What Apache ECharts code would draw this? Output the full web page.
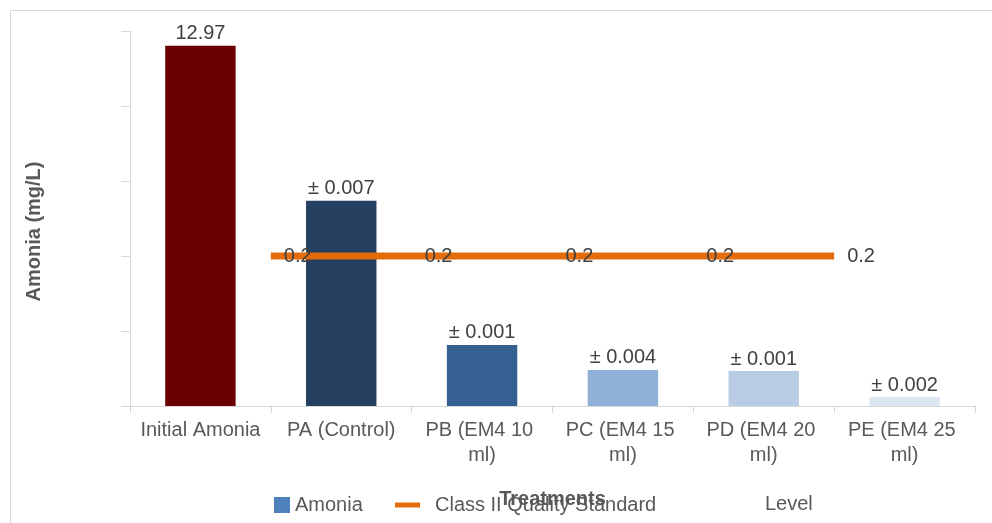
<!DOCTYPE html>
<html>
<head>
<meta charset="utf-8">
<script src="https://cdn.jsdelivr.net/npm/echarts@6/dist/echarts.min.js"></script>
<style>
html,body{margin:0;padding:0;background:#fff;}
#chart{width:992px;height:523px;}
</style>
</head>
<body>
<div id="chart"></div>
<script>
// ---- data ----
const categories = ['Initial Amonia', 'PA (Control)', 'PB (EM4 10 ml)', 'PC (EM4 15 ml)', 'PD (EM4 20 ml)', 'PE (EM4 25 ml)'];
const amonia = [12.97, 7.39, 2.20, 1.30, 1.26, 0.32];
const amoniaLabels = ['12.97', '± 0.007', '± 0.001', '± 0.004', '± 0.001', '± 0.002'];
const barColors = ['#6B0000', '#243F60', '#366092', '#8FB1D7', '#B8CCE4', '#DCE6F2'];
// hidden boundary axis for the standard line (category edges)
const boundaries = ['b0', 'b1', 'b2', 'b3', 'b4', 'b5', 'b6'];
const standard = [null, 0.2, 0.2, 0.2, 0.2, 0.2, null];

const FONT = 'Liberation Sans, Arial, sans-serif';
const chart = echarts.init(document.getElementById('chart'));
chart.setOption({
  animation: false,
  backgroundColor: '#fff',
  textStyle: { fontFamily: FONT },
  grid: { left: 130, right: 17, top: 31, bottom: 117, containLabel: false },
  graphic: [
    { type: 'rect', shape: { x: 10.5, y: 10.5, width: 1000, height: 530 }, style: { fill: 'none', stroke: '#D9D9D9', lineWidth: 1 }, silent: true },
    { type: 'text', left: 765, top: 494, style: { text: 'Level', font: '20px ' + FONT, fill: '#595959' } }
  ],
  legend: [
    { data: [{ name: 'Amonia', icon: 'rect' }], left: 274, top: 495, padding: 0, itemWidth: 16, itemHeight: 16,
      textStyle: { fontSize: 20, color: '#595959', fontFamily: FONT }, selectedMode: false },
    { data: [{ name: 'Class II Quality Standard', icon: 'rect', itemStyle: { color: '#E46C0A', opacity: 1 } }], left: 395, top: 495, padding: 0, itemWidth: 25, itemHeight: 5,
      textStyle: { fontSize: 20, color: '#595959', fontFamily: FONT, padding: [0, 0, 0, 10] }, selectedMode: false }
  ],
  xAxis: [
    { type: 'category', data: categories, boundaryGap: true,
      axisLine: { lineStyle: { color: '#D9D9D9', width: 1 } },
      axisTick: { show: true, length: 7, lineStyle: { color: '#D9D9D9' } },
      axisLabel: { fontSize: 20, color: '#595959', margin: 12, width: 136, overflow: 'break', lineHeight: 25, interval: 0, fontFamily: FONT },
      name: 'Treatments', nameLocation: 'middle', nameGap: 83,
      nameTextStyle: { fontSize: 20, fontWeight: 'bold', color: '#595959', fontFamily: FONT }
    },
    { type: 'category', data: boundaries, boundaryGap: false, show: false }
  ],
  yAxis: [
    { type: 'value', min: 0, max: 13.5, interval: 2.7,
      axisLine: { show: true, lineStyle: { color: '#D9D9D9' } },
      axisTick: { show: true, length: 9, lineStyle: { color: '#D9D9D9' } },
      axisLabel: { show: false }, splitLine: { show: false },
      name: 'Amonia (mg/L)', nameLocation: 'middle', nameGap: 86, nameRotate: 90,
      nameTextStyle: { fontSize: 20, fontWeight: 'bold', color: '#595959', fontFamily: FONT, padding: [0, 26, 0, 0] }
    },
    { type: 'value', min: 0, max: 0.5, interval: 0.1, show: false, splitLine: { show: false } }
  ],
  series: [
    { name: 'Amonia', type: 'bar', xAxisIndex: 0, yAxisIndex: 0, barWidth: '50%',
      itemStyle: { color: '#4F81BD' },
      data: amonia.map((v, i) => ({ value: v, itemStyle: { color: barColors[i] } })),
      label: { show: true, position: 'top', distance: 2, fontSize: 20, color: '#404040', fontFamily: FONT,
        formatter: p => amoniaLabels[p.dataIndex] },
      z: 2
    },
    { name: 'Class II Quality Standard', type: 'line', xAxisIndex: 1, yAxisIndex: 1,
      data: standard, showSymbol: true, showAllSymbol: true, symbol: 'circle', symbolSize: 2, connectNulls: false,
      lineStyle: { color: '#E46C0A', width: 7 }, itemStyle: { color: 'rgba(0,0,0,0)', borderWidth: 0 },
      label: { show: true, position: 'right', distance: 12, fontSize: 20, color: '#404040', fontFamily: FONT },
      labelLayout: { hideOverlap: false },
      z: 5
    }
  ]
});
</script>
</body>
</html>
